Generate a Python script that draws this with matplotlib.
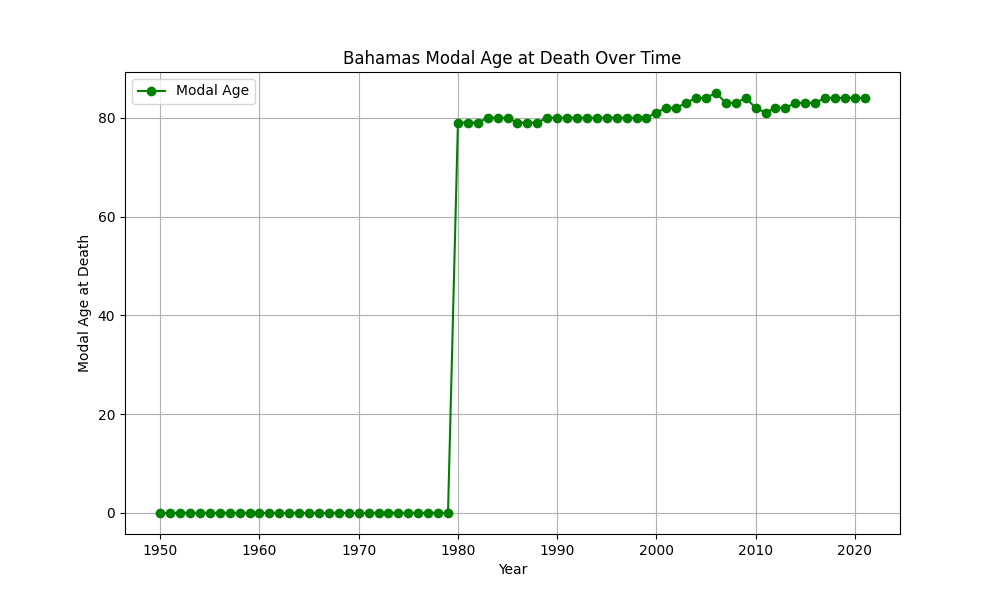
import matplotlib
matplotlib.use("Agg")
import matplotlib.pyplot as plt

years = list(range(1950, 2022))
modal_age = [0] * 30 + [
    79, 79, 79, 80, 80, 80, 79, 79, 79, 80,
    80, 80, 80, 80, 80, 80, 80, 80, 80, 80,
    81, 82, 82, 83, 84, 84, 85, 83, 83, 84,
    82, 81, 82, 82, 83, 83, 83, 84, 84, 84,
    84, 84,
]

fig, ax = plt.subplots(figsize=(10, 6), dpi=100)
ax.plot(years, modal_age, marker="o", color="green", label="Modal Age")
ax.set_title("Bahamas Modal Age at Death Over Time")
ax.set_xlabel("Year")
ax.set_ylabel("Modal Age at Death")
ax.grid(True)
ax.legend(loc="upper left")
fig.savefig("out.png")
